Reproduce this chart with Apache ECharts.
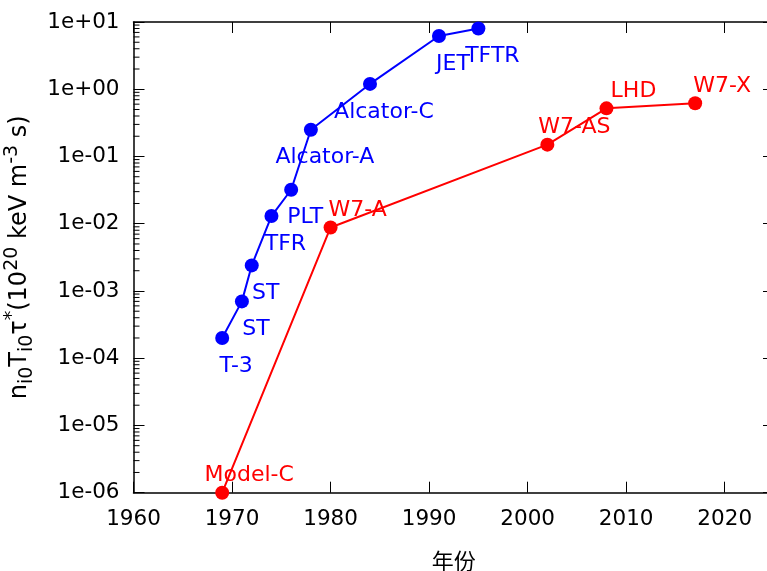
<!DOCTYPE html>
<html>
<head>
<meta charset="utf-8">
<script src="https://cdn.jsdelivr.net/npm/echarts@6/dist/echarts.min.js"></script>
<style>
  html, body { margin: 0; padding: 0; background: #ffffff; }
  #chart { width: 767px; height: 571px; }
</style>
</head>
<body>
<div id="chart"></div>
<script>
// Tokamaks: year, fusion triple product n·T·τ (10^20 keV m^-3 s)
const tokamakNames  = ['T-3', 'ST', 'ST', 'TFR', 'PLT', 'Alcator-A', 'Alcator-C', 'JET', 'TFTR'];
const tokamakYears  = [1969, 1971, 1972, 1974, 1976, 1978, 1984, 1991, 1995];
const tokamakValues = [2e-4, 7e-4, 2.4e-3, 1.3e-2, 3.2e-2, 0.25, 1.2, 6.2, 8];

// Stellarators
const stellaratorNames  = ['Model-C', 'W7-A', 'W7-AS', 'LHD', 'W7-X'];
const stellaratorYears  = [1969, 1980, 2002, 2008, 2017];
const stellaratorValues = [1e-6, 8.8e-3, 0.15, 0.52, 0.62];

// Axis ranges and tick labels
const xMin = 1960, xMax = 2025, xStep = 10;
const yMin = 1e-6, yMax = 10;
const yTickLabels = ['1e-06', '1e-05', '1e-04', '1e-03', '1e-02', '1e-01', '1e+00', '1e+01'];

// minor log ticks at 2..9 of every decade
const yMinorTicks = [];
for (let e = -6; e < 1; e++) {
  for (let m = 2; m <= 9; m++) yMinorTicks.push(+(m * Math.pow(10, e)).toPrecision(3));
}

const FONT = "'DejaVu Sans', 'Noto Sans CJK SC', sans-serif";
const BLUE = '#0000ff', RED = '#ff0000';

const pairs = (xs, ys) => xs.map((x, i) => [x, ys[i]]);

const axisLine = { show: true, lineStyle: { color: '#000', width: 1.5 } };
const majorTick = { show: true, inside: true, length: 11, lineStyle: { color: '#000', width: 1 } };

const chart = echarts.init(document.getElementById('chart'), null, { renderer: 'canvas' });

chart.setOption({
  animation: false,
  backgroundColor: '#ffffff',
  grid: { left: 133.5, right: -7, top: 22, bottom: 78.3, containLabel: false, outerBoundsMode: 'none' },
  xAxis: [
    {
      type: 'value', position: 'bottom', min: xMin, max: xMax, interval: xStep,
      axisLine, axisTick: majorTick, splitLine: { show: false },
      axisLabel: { color: '#000', fontFamily: FONT, fontSize: 21.5, margin: 16, showMaxLabel: false,
                   formatter: v => String(v) },
      name: '年份', nameLocation: 'middle', nameGap: 60,
      nameTextStyle: { color: '#000', fontFamily: FONT, fontSize: 22 }
    },
    {
      type: 'value', position: 'top', min: xMin, max: xMax, interval: xStep,
      axisLine, axisTick: majorTick, splitLine: { show: false }, axisLabel: { show: false }
    }
  ],
  yAxis: [
    {
      type: 'log', logBase: 10, position: 'left', min: yMin, max: yMax, interval: 1,
      axisLine, axisTick: majorTick, splitLine: { show: false }, minorTick: { show: false },
      axisLabel: {
        color: '#000', fontFamily: FONT, fontSize: 21.5, margin: 14,
        formatter: v => yTickLabels[Math.round(Math.log10(v)) + 6]
      },
      name: '{n|n}{sub|i0}{n|T}{sub|i0}{n|τ}{sup|*}{n|(10}{sup|20}{n| keV m}{sup|-3}{n| s)}',
      nameLocation: 'middle', nameRotate: 90, nameGap: 90,
      nameTextStyle: {
        color: '#000', fontFamily: FONT, fontSize: 24,
        rich: {
          n:   { fontFamily: FONT, fontSize: 24, color: '#000', lineHeight: 34, verticalAlign: 'middle' },
          sub: { fontFamily: FONT, fontSize: 19, color: '#000', lineHeight: 19, verticalAlign: 'bottom' },
          sup: { fontFamily: FONT, fontSize: 19, color: '#000', lineHeight: 19, verticalAlign: 'top' }
        }
      }
    },
    {
      type: 'log', logBase: 10, position: 'right', min: yMin, max: yMax, interval: 1,
      axisLine, axisTick: majorTick, splitLine: { show: false }, axisLabel: { show: false }
    }
  ],
  series: [
    {
      // short inward minor ticks on the left log axis, placed through the axis scale
      name: 'minor-ticks', type: 'custom', xAxisIndex: 0, yAxisIndex: 0,
      silent: true, clip: false, z: 1,
      data: yMinorTicks.map(v => [xMin, v]),
      renderItem: (params, api) => {
        const p = api.coord([api.value(0), api.value(1)]);
        return {
          type: 'line',
          shape: { x1: p[0], y1: p[1], x2: p[0] + 6, y2: p[1] },
          style: { stroke: '#000', lineWidth: 1 }
        };
      }
    },
    {
      name: 'tokamak', type: 'line', xAxisIndex: 0, yAxisIndex: 0,
      data: pairs(tokamakYears, tokamakValues),
      symbol: 'circle', symbolSize: 14,
      lineStyle: { color: BLUE, width: 2 }, itemStyle: { color: BLUE },
      label: {
        show: true, position: 'inside', offset: [14, 28], align: 'center', verticalAlign: 'middle',
        color: BLUE, fontFamily: FONT, fontSize: 22,
        formatter: p => tokamakNames[p.dataIndex]
      },
      z: 3
    },
    {
      name: 'stellarator', type: 'line', xAxisIndex: 0, yAxisIndex: 0,
      data: pairs(stellaratorYears, stellaratorValues),
      symbol: 'circle', symbolSize: 14,
      lineStyle: { color: RED, width: 2 }, itemStyle: { color: RED },
      label: {
        show: true, position: 'inside', offset: [27, -17], align: 'center', verticalAlign: 'middle',
        color: RED, fontFamily: FONT, fontSize: 22,
        formatter: p => stellaratorNames[p.dataIndex]
      },
      z: 4
    }
  ]
});
</script>
</body>
</html>
